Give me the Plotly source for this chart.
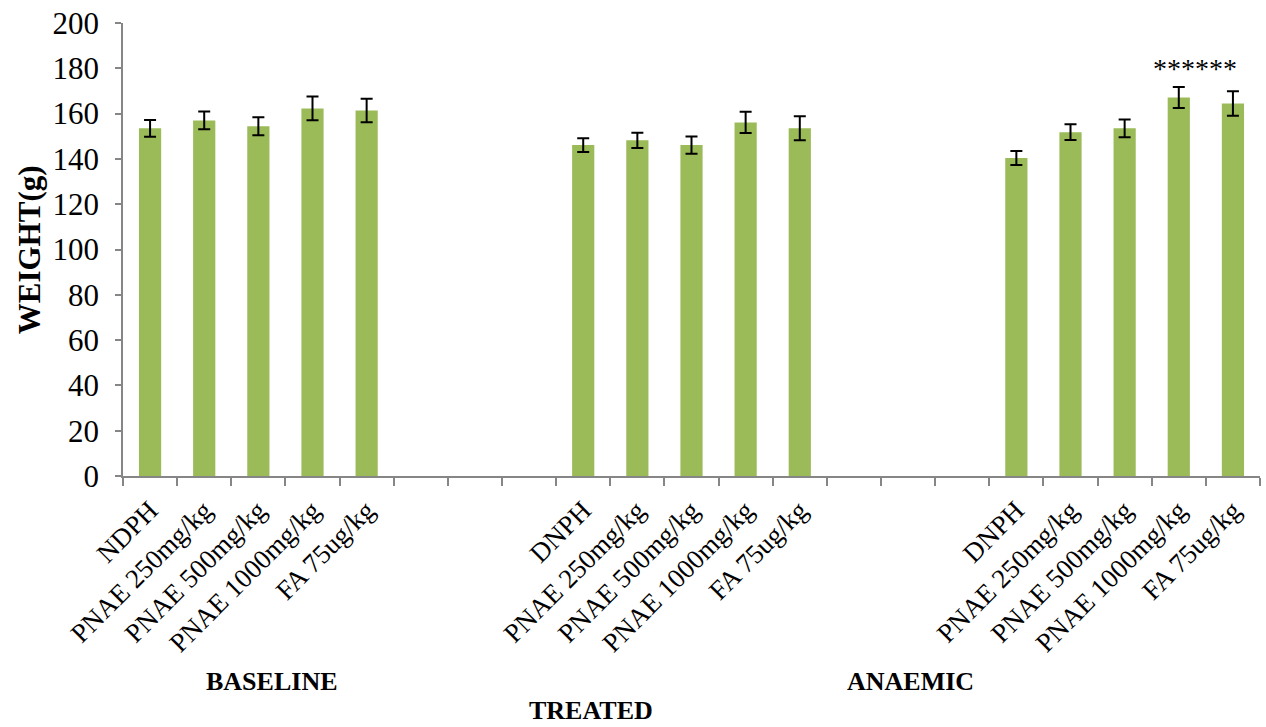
import plotly.graph_objects as go

# Dose groups shown in each phase
doses_baseline = ["NDPH", "PNAE 250mg/kg", "PNAE 500mg/kg", "PNAE 1000mg/kg", "FA 75ug/kg"]
doses_treated = ["DNPH", "PNAE 250mg/kg", "PNAE 500mg/kg", "PNAE 1000mg/kg", "FA 75ug/kg"]
doses_anaemic = ["DNPH", "PNAE 250mg/kg", "PNAE 500mg/kg", "PNAE 1000mg/kg", "FA 75ug/kg"]

# Mean body weight (g) and error per group
weight_baseline = [153.5, 157.0, 154.4, 162.3, 161.4]
error_baseline = [3.7, 3.9, 4.0, 5.2, 5.2]
weight_treated = [146.1, 148.2, 146.1, 156.1, 153.5]
error_treated = [3.0, 3.4, 3.8, 4.7, 5.3]
weight_anaemic = [140.4, 151.8, 153.5, 167.1, 164.5]
error_anaemic = [3.1, 3.5, 3.9, 4.6, 5.4]

y_ticks = [0, 20, 40, 60, 80, 100, 120, 140, 160, 180, 200]
group_titles = ["BASELINE", "TREATED", "ANAEMIC"]
significance_mark = "******"

GAP = 3  # empty slots between phases

x_pos, labels, values, errors = [], [], [], []
pos = 0
for names, w, e in [(doses_baseline, weight_baseline, error_baseline),
                    (doses_treated, weight_treated, error_treated),
                    (doses_anaemic, weight_anaemic, error_anaemic)]:
    for n, v, er in zip(names, w, e):
        x_pos.append(pos)
        labels.append(n)
        values.append(v)
        errors.append(er)
        pos += 1
    pos += GAP
n_slots = pos - GAP

FONT = "Liberation Serif, Times New Roman, serif"
AXIS_COLOR = "#868686"

fig = go.Figure()
fig.add_trace(go.Bar(
    x=x_pos, y=values,
    marker=dict(color="#9BBB59", line=dict(width=0)),
    width=0.41,
    error_y=dict(type="data", array=errors, visible=True,
                 color="black", thickness=2, width=6),
    showlegend=False,
))

fig.update_layout(
    width=1266, height=727,
    margin=dict(l=123, r=6, t=20, b=251),
    paper_bgcolor="white", plot_bgcolor="white",
    font=dict(family=FONT, color="black"),
)

fig.update_xaxes(
    range=[-0.5, n_slots - 0.5],
    tickmode="array", tickvals=x_pos, ticktext=labels,
    tickangle=-45, ticks="",
    tickfont=dict(family=FONT, size=27, color="black"),
    ticklabelstandoff=6,
    showline=True, linecolor=AXIS_COLOR, linewidth=1.5,
    showgrid=False, zeroline=False,
    minor=dict(tickmode="linear", tick0=-0.5, dtick=1, ticks="outside",
               ticklen=8, tickcolor=AXIS_COLOR, tickwidth=1.5, showgrid=False),
)

fig.update_yaxes(
    range=[0, 200], tickmode="array", tickvals=y_ticks,
    ticks="outside", ticklen=6, tickcolor=AXIS_COLOR, tickwidth=1.5,
    tickfont=dict(family=FONT, size=31, color="black"),
    ticklabelstandoff=10,
    showline=True, linecolor=AXIS_COLOR, linewidth=1.5,
    showgrid=False, zeroline=False,
)

# Y-axis title
fig.add_annotation(
    text="<b>WEIGHT(g)</b>", textangle=-90,
    xref="paper", yref="paper", x=-0.082, y=0.5,
    xanchor="center", yanchor="middle", showarrow=False,
    font=dict(family=FONT, size=31, color="black"),
)

# Phase labels below the axis
for title, xp, yp in zip(group_titles, [2.25, 8.15, 14.05], [-0.454, -0.518, -0.454]):
    fig.add_annotation(
        text=f"<b>{title}</b>", xref="x", yref="paper", x=xp, y=yp,
        xanchor="center", yanchor="middle", showarrow=False,
        font=dict(family=FONT, size=26, color="black"),
    )

# Significance marker over the anaemic high-dose group
fig.add_annotation(
    text=significance_mark, xref="x", yref="y", x=x_pos[-2] + 0.3, y=180,
    xanchor="center", yanchor="middle", showarrow=False,
    font=dict(family=FONT, size=28, color="black"),
)

fig.write_html("out.html")
